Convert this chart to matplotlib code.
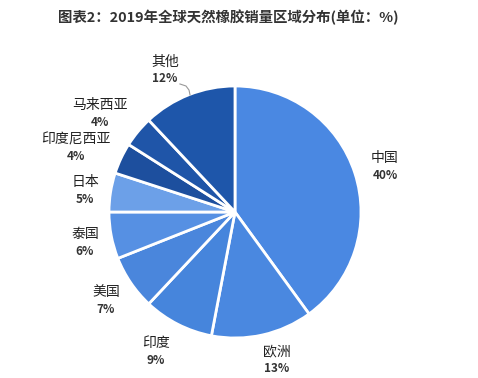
import numpy as np
import matplotlib
matplotlib.use("Agg")
import matplotlib.pyplot as plt

plt.rcParams['font.family'] = ['Noto Sans CJK SC', 'DejaVu Sans']

title = "图表2：2019年全球天然橡胶销量区域分布(单位：%)"
regions = ["中国", "欧洲", "印度", "美国", "泰国", "日本", "印度尼西亚", "马来西亚", "其他"]
shares = [40, 13, 9, 7, 6, 5, 4, 4, 12]
colors = ["#4a88e2", "#4a88e0", "#4685dc", "#4a86dc", "#5690e3", "#6ca0e8",
          "#1d4f9e", "#1f55a8", "#1e56aa"]
# label centre positions (data units, pie radius = 1)
label_pos = [(1.19, 0.357), (0.333, -1.175), (-0.627, -1.111), (-1.024, -0.706),
             (-1.19, -0.246), (-1.19, 0.167), (-1.262, 0.508), (-1.071, 0.778),
             (-0.556, 1.127)]

W, H = 478, 378
fig = plt.figure(figsize=(W / 100, H / 100), dpi=100)
cx, cy, r = 235, 212, 126
ax = fig.add_axes([(cx - r) / W, (H - cy - r) / H, 2 * r / W, 2 * r / H])
wedges, _ = ax.pie(shares, colors=colors, startangle=90, counterclock=False,
                   radius=1.0, wedgeprops=dict(edgecolor='white', linewidth=2))
ax.set_xlim(-1, 1)
ax.set_ylim(-1, 1)
ax.set_aspect('equal')
ax.axis('off')

for name, val, (x, y) in zip(regions, shares, label_pos):
    ax.text(x, y + 0.068, name, ha='center', va='center', fontsize=10,
            color='#222222', clip_on=False)
    ax.text(x, y - 0.068, f"{val}%", ha='center', va='center', fontsize=8.5,
            fontweight='bold', color='#333333', clip_on=False)

# leader line for 其他
ax.plot([-0.437, -0.389, -0.365, -0.357], [1.016, 1.0, 0.968, 0.929],
        color='#999999', lw=0.8, clip_on=False)

fig.text(228 / W, 1 - 17 / H, title, ha='center', va='center', fontsize=10.4,
         fontweight='bold', color='#333333')

fig.savefig("out.png", dpi=100, facecolor='white')
